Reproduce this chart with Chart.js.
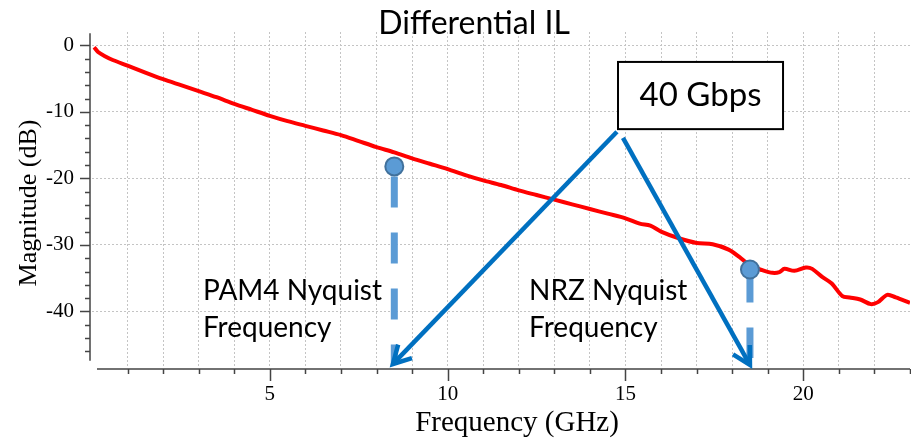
<!DOCTYPE html>
<html lang="en">
<head>
<meta charset="UTF-8">
<script src="https://cdn.jsdelivr.net/npm/chart.js"></script>
<title>Differential IL</title>
<style>
    body { margin: 0; background: #ffffff; }
    canvas { display: block; }
</style>
</head>
<body>
<canvas id="graficoIL" width="911" height="439"></canvas>
<script>
    // Differential insertion loss (frequency in GHz, magnitude in dB)
    const freqGHz = [0.06, 0.17, 0.35, 0.6, 1.0, 1.5, 2.0, 2.5, 3.0, 3.5, 4.0, 4.5, 5.0, 5.5, 6.0, 6.5,
        7.0, 7.5, 8.0, 8.5, 9.0, 9.5, 10.0, 10.5, 11.0, 11.5, 12.0, 12.5, 13.0, 13.5, 14.0, 14.5,
        15.0, 15.4, 15.7, 16.0, 16.5, 17.0, 17.45, 17.9, 18.2, 18.5, 18.85, 19.13, 19.33, 19.47,
        19.75, 20.07, 20.25, 20.53, 20.8, 21.1, 21.3, 21.6, 21.9, 22.1, 22.36, 22.6, 23.0];
    const magDB = [-0.3, -1.0, -1.6, -2.25, -3.05, -4.1, -5.1, -6.0, -6.9, -7.8, -8.8, -9.7, -10.6, -11.4, -12.1, -12.8,
        -13.5, -14.4, -15.3, -16.1, -17.0, -17.8, -18.6, -19.5, -20.3, -21.0, -21.8, -22.5, -23.2, -23.9, -24.6, -25.3,
        -26.0, -26.8, -27.1, -28.0, -29.0, -29.7, -29.9, -30.7, -31.8, -33.1, -33.8, -34.2, -34.1, -33.6,
        -33.9, -33.4, -33.6, -34.8, -35.8, -37.7, -37.9, -38.2, -38.9, -38.6, -37.5, -37.9, -38.7];

    // Nyquist markers and the end of their dashed drop lines
    const nyquistFreq = [8.5, 18.5];
    const nyquistMag = [-18.2, -33.7];
    const nyquistFim = [-48.05, -47.0];

    // labelled ticks
    const xTicks = [5, 10, 15, 20];
    const yTicks = [0, -10, -20, -30, -40];

    // callouts, placed in axis units
    const caixa = { x1: 14.79, x2: 19.43, y1: -2.5, y2: -12.6, texto: '40 Gbps' };
    const setas = [
        { x1: 14.76, y1: -13.0, x2: 8.46, y2: -47.9 },
        { x1: 14.93, y1: -13.9, x2: 18.5, y2: -48.05 }
    ];
    const rotulos = [
        { x: 3.12, y: -38.3, linhas: ['PAM4 Nyquist', 'Frequency'] },
        { x: 12.29, y: -38.3, linhas: ['NRZ Nyquist', 'Frequency'] }
    ];

    const azulEscuro = '#0070C0';
    const azulClaro = '#5B9BD5';
    const semCor = 'rgba(0,0,0,0)';

    const pontosCurva = freqGHz.map((f, i) => ({ x: f, y: magDB[i] }));
    const dropLines = nyquistFreq.map((f, i) => ({
        type: 'line',
        data: [{ x: f, y: nyquistMag[i] }, { x: f, y: nyquistFim[i] }],
        borderColor: azulClaro,
        borderWidth: 7,
        borderDash: [31, 25],
        borderDashOffset: i === 0 ? -10 : -2,
        borderCapStyle: 'butt',
        pointRadius: 0,
        order: 2
    }));

    // axis lines, tick marks, titles and callouts
    const desenhos = {
        id: 'desenhos',
        beforeDatasetsDraw(chart) {
            const ctx = chart.ctx;
            const sx = chart.scales.x, sy = chart.scales.y;
            const area = chart.chartArea;
            ctx.save();
            ctx.strokeStyle = '#444';
            ctx.lineWidth = 1.5;

            // y axis
            const ax = area.left - 2;
            ctx.beginPath();
            ctx.moveTo(ax, sy.getPixelForValue(1.8));
            ctx.lineTo(ax, sy.getPixelForValue(-47.4));
            for (let v = 0; v >= -46; v -= 2) {
                const py = Math.round(sy.getPixelForValue(v)) + 0.5;
                const len = v % 10 === 0 ? 10 : 5;
                ctx.moveTo(ax, py);
                ctx.lineTo(ax - len, py);
            }
            ctx.stroke();

            // x axis
            const ay = area.bottom + 1;
            ctx.beginPath();
            ctx.moveTo(sx.getPixelForValue(0.14), ay);
            ctx.lineTo(area.right, ay);
            for (let v = 1; v <= 23; v++) {
                const px = Math.round(sx.getPixelForValue(v)) + 0.5;
                const len = v % 5 === 0 ? 12 : 5;
                ctx.moveTo(px, ay);
                ctx.lineTo(px, ay + len);
            }
            ctx.stroke();

            // axis titles
            ctx.fillStyle = '#000';
            ctx.textAlign = 'center';
            ctx.textBaseline = 'alphabetic';
            ctx.font = '29px "Liberation Serif"';
            ctx.fillText('Frequency (GHz)', 517, 431);
            ctx.font = '26px "Liberation Serif"';
            ctx.translate(36, 203);
            ctx.rotate(-Math.PI / 2);
            ctx.fillText('Magnitude (dB)', 0, 0);
            ctx.restore();

            // chart title
            ctx.save();
            ctx.fillStyle = '#000';
            ctx.font = '32px Lato';
            ctx.textAlign = 'center';
            ctx.fillText('Differential IL', 474, 34);
            ctx.restore();
        },
        afterDatasetsDraw(chart) {
            const ctx = chart.ctx;
            const sx = chart.scales.x, sy = chart.scales.y;
            ctx.save();

            // text labels
            ctx.fillStyle = '#000';
            ctx.font = '28px Lato';
            ctx.textAlign = 'left';
            rotulos.forEach(r => {
                const px = sx.getPixelForValue(r.x);
                const py = sy.getPixelForValue(r.y);
                r.linhas.forEach((l, k) => ctx.fillText(l, px, py + k * 37));
            });

            // box
            const bx1 = sx.getPixelForValue(caixa.x1), bx2 = sx.getPixelForValue(caixa.x2);
            const by1 = sy.getPixelForValue(caixa.y1), by2 = sy.getPixelForValue(caixa.y2);
            ctx.fillStyle = '#fff';
            ctx.fillRect(bx1, by1, bx2 - bx1, by2 - by1);
            ctx.strokeStyle = '#000';
            ctx.lineWidth = 2;
            ctx.strokeRect(bx1, by1, bx2 - bx1, by2 - by1);
            ctx.fillStyle = '#000';
            ctx.font = '33px Lato';
            ctx.textAlign = 'center';
            ctx.textBaseline = 'middle';
            ctx.fillText(caixa.texto, (bx1 + bx2) / 2, (by1 + by2) / 2);

            // arrows
            ctx.strokeStyle = azulEscuro;
            ctx.lineWidth = 4.5;
            ctx.lineJoin = 'miter';
            setas.forEach(s => {
                const x1 = sx.getPixelForValue(s.x1), y1 = sy.getPixelForValue(s.y1);
                const x2 = sx.getPixelForValue(s.x2), y2 = sy.getPixelForValue(s.y2);
                const ang = Math.atan2(y2 - y1, x2 - x1);
                ctx.beginPath();
                ctx.moveTo(x1, y1);
                ctx.lineTo(x2 - 3 * Math.cos(ang), y2 - 3 * Math.sin(ang));
                ctx.stroke();
                const cab = 20, abre = 0.5;
                ctx.beginPath();
                ctx.moveTo(x2 - cab * Math.cos(ang - abre), y2 - cab * Math.sin(ang - abre));
                ctx.lineTo(x2, y2);
                ctx.lineTo(x2 - cab * Math.cos(ang + abre), y2 - cab * Math.sin(ang + abre));
                ctx.stroke();
            });
            ctx.restore();
        }
    };

    const config = {
        type: 'line',
        data: {
            datasets: [
                {
                    data: pontosCurva,
                    borderColor: '#FF0000',
                    borderWidth: 4,
                    pointRadius: 0,
                    tension: 0.3,
                    order: 3
                },
                ...dropLines,
                {
                    type: 'scatter',
                    data: nyquistFreq.map((f, i) => ({ x: f, y: nyquistMag[i] })),
                    backgroundColor: azulClaro,
                    borderColor: '#41719C',
                    borderWidth: 2,
                    pointRadius: 9,
                    order: 1
                }
            ]
        },
        options: {
            responsive: false,
            animation: false,
            devicePixelRatio: 1,
            layout: { autoPadding: false, padding: { top: 32, right: 1, left: 0, bottom: 0 } },
            plugins: { legend: { display: false }, tooltip: { enabled: false }, title: { display: false } },
            scales: {
                x: {
                    type: 'linear',
                    min: 0,
                    max: 23,
                    afterFit: s => { s.height = 71; },
                    border: { display: false, dash: [2, 2] },
                    grid: {
                        drawTicks: true,
                        tickLength: 14,
                        tickColor: semCor,
                        lineWidth: 1,
                        color: c => (c.tick && c.tick.value > 0 && c.tick.value < 23) ? '#c4c4c4' : semCor
                    },
                    ticks: {
                        stepSize: 1,
                        autoSkip: false,
                        maxRotation: 0,
                        padding: 0,
                        color: '#000',
                        font: { family: 'Liberation Serif', size: 21 },
                        callback: v => xTicks.includes(v) ? String(v) : ''
                    }
                },
                y: {
                    min: -48.5,
                    max: 2,
                    afterFit: s => { s.width = 92; },
                    border: { display: false, dash: [2, 2] },
                    grid: {
                        drawTicks: true,
                        tickLength: 18,
                        tickColor: semCor,
                        lineWidth: 1,
                        color: c => (c.tick && yTicks.includes(c.tick.value)) ? '#c4c4c4' : semCor
                    },
                    ticks: {
                        stepSize: 2,
                        autoSkip: false,
                        padding: 0,
                        color: '#000',
                        font: { family: 'Liberation Serif', size: 21 },
                        callback: v => yTicks.includes(v) ? String(v) : ''
                    }
                }
            }
        },
        plugins: [desenhos]
    };

    const grafico = new Chart(document.getElementById('graficoIL'), config);
</script>
</body>
</html>
